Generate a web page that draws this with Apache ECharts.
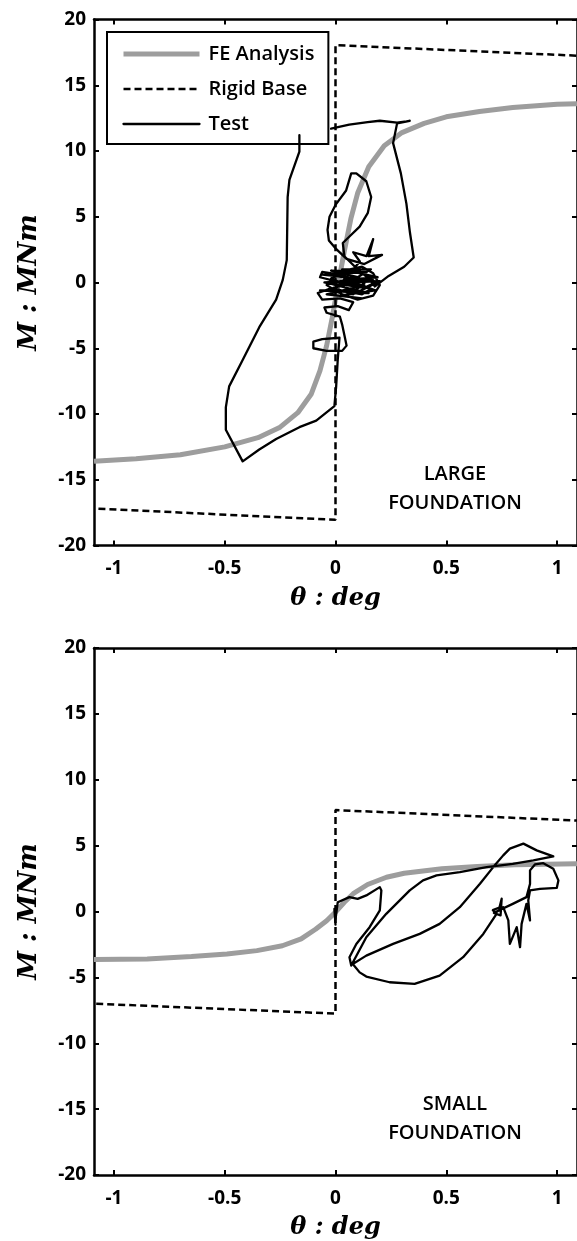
<!DOCTYPE html>
<html>
<head>
<meta charset="utf-8">
<script src="https://cdn.jsdelivr.net/npm/echarts@6/dist/echarts.min.js"></script>
<style>
  html, body { margin: 0; padding: 0; background: #fff; }
  #chart { width: 577px; height: 1241px; }
</style>
</head>
<body>
<div id="chart"></div>
<script>
// Axis ranges and tick labels
const xRange = [-1.09, 1.09];
const yRange = [-20, 20];
const xTicks = [-1, -0.5, 0, 0.5, 1];
const yTicks = [-20, -15, -10, -5, 0, 5, 10, 15, 20];

const seriesNames = ['FE Analysis', 'Rigid Base', 'Test'];
const panelLabels = ['LARGE\nFOUNDATION', 'SMALL\nFOUNDATION'];

// Large foundation: [theta (deg), M (MNm)]
const largeFE = [
  [-1.09, -13.6], [-0.9, -13.4], [-0.7, -13.1], [-0.5, -12.5], [-0.35, -11.8],
  [-0.25, -11.0], [-0.17, -9.9], [-0.11, -8.5], [-0.07, -6.7], [-0.04, -4.8],
  [-0.015, -2.7], [0.01, -0.3], [0.04, 2.4], [0.07, 4.9], [0.1, 6.8],
  [0.15, 8.8], [0.22, 10.4], [0.3, 11.4], [0.4, 12.1], [0.5, 12.6],
  [0.65, 13.0], [0.8, 13.3], [1.0, 13.55], [1.09, 13.6]
];
const largeRigid = [[-1.07, -17.2], [0, -18.05], [0, 18.05], [1.09, 17.25]];
const largeTest = [
  [-0.163, 11.2], [-0.163, 9.95], [-0.208, 7.8], [-0.216, 6.5], [-0.22, 1.7],
  [-0.238, 0.2], [-0.268, -1.3], [-0.344, -3.4], [-0.419, -5.9], [-0.48, -7.9],
  [-0.495, -9.5], [-0.495, -11.2], [-0.419, -13.6], [-0.344, -12.7], [-0.268, -11.9],
  [-0.163, -11.0], [-0.087, -10.5], [-0.005, -9.4], [0.003, -7.9], [0.01, -5.9],
  [0.018, -4.2], [-0.06, -4.3], [-0.1, -4.5], [-0.1, -5.0], [-0.04, -5.2],
  [0.03, -5.2], [0.05, -4.8], [0.04, -4.0], [0.03, -3.2], [0.02, -2.6],
  [-0.04, -2.3], [-0.05, -1.9], [0.01, -1.8], [0.06, -2.1], [0.08, -1.5],
  [0.02, -1.2], [-0.06, -1.3], [-0.08, -0.8], [-0.03, -0.5], [0.05, -0.7],
  [0.12, -0.9], [0.16, -0.5], [0.1, -0.1], [0.0, 0.1], [-0.07, 0.4],
  [-0.06, 0.8], [0.02, 0.6], [0.1, 0.9], [0.15, 0.5], [0.18, 0.0],
  [0.13, -0.4], [0.05, -0.2], [-0.02, 0.3], [0.04, 0.9], [0.12, 1.2],
  [0.17, 0.7], [0.2, -0.2], [0.17, -1.0], [0.1, -1.3], [0.03, -0.9],
  [-0.04, -0.2], [0.0, 0.5], [0.07, 0.3], [0.14, 0.1], [0.09, -0.6],
  [-0.07, -0.6], [0.15, -0.8], [-0.05, 0.0], [0.16, 0.2], [-0.06, 0.6],
  [0.14, 0.8], [-0.02, 0.9], [0.1, 0.4], [-0.03, -0.1], [0.13, -0.2],
  [-0.04, -0.9], [0.12, -1.2], [0.02, -1.0], [0.18, -0.6], [0.05, 0.2],
  [0.19, 0.4], [0.03, 1.0], [0.16, 1.0], [0.06, 0.0], [0.2, 0.1],
  [0.08, -0.9], [-0.01, -0.4], [0.11, 0.1], [0.0, 0.7], [0.09, 1.1],
  [0.02, -0.1], [0.06, 0.6], [0.11, 1.6], [0.08, 2.3], [0.14, 2.0],
  [0.17, 3.3], [0.15, 2.0], [0.21, 2.1], [0.13, 1.4], [0.05, 1.8],
  [0.0, 2.6], [-0.03, 3.2], [-0.036, 4.0], [-0.027, 5.0], [0.0, 5.9],
  [0.048, 7.0], [0.071, 8.3], [0.094, 8.3], [0.139, 7.7], [0.161, 6.5],
  [0.146, 5.3], [0.109, 4.25], [0.063, 3.5], [0.033, 3.0], [0.04, 2.0],
  [0.1, 1.0], [0.15, 0.3], [0.178, -0.3], [0.24, 0.5], [0.31, 1.2],
  [0.353, 1.9], [0.336, 3.8], [0.32, 6.0], [0.295, 8.3], [0.26, 10.6],
  [0.278, 12.1], [0.335, 12.3], [0.32, 12.25], [0.278, 12.15], [0.2, 12.3],
  [0.145, 12.2], [0.062, 12.0], [-0.02, 11.7]
];

// Small foundation: [theta (deg), M (MNm)]
const smallFE = [
  [-1.09, -3.65], [-0.85, -3.6], [-0.65, -3.42], [-0.49, -3.22], [-0.355, -2.97],
  [-0.24, -2.6], [-0.155, -2.08], [-0.09, -1.35], [-0.04, -0.7], [0.0, -0.05],
  [0.04, 0.7], [0.08, 1.35], [0.145, 2.05], [0.23, 2.6], [0.31, 2.9],
  [0.48, 3.24], [0.64, 3.42], [0.81, 3.55], [1.09, 3.62]
];
const smallRigid = [[-1.08, -7.0], [0, -7.75], [0, 7.7], [1.09, 6.9]];
const smallTest = [
  [0.0, -1.0], [-0.005, 0.2], [0.0, -0.6], [0.01, 0.7], [0.063, 1.09],
  [0.1, 0.96], [0.139, 1.22], [0.2, 1.85], [0.207, 1.6], [0.2, 0.08],
  [0.154, -1.19], [0.094, -2.46], [0.063, -3.47], [0.071, -4.1], [0.139, -1.95],
  [0.229, -0.18], [0.335, 1.6], [0.395, 2.36], [0.456, 2.74], [0.561, 2.99],
  [0.682, 3.37], [0.8, 3.62], [0.893, 3.88], [0.983, 4.18], [0.908, 4.64],
  [0.848, 5.15], [0.787, 4.77], [0.757, 4.26], [0.712, 3.37], [0.652, 2.1],
  [0.561, 0.33], [0.47, -0.94], [0.38, -1.7], [0.26, -2.46], [0.139, -3.35],
  [0.078, -3.98], [0.109, -4.62], [0.139, -4.94], [0.244, -5.37], [0.357, -5.5],
  [0.47, -4.87], [0.576, -3.47], [0.667, -1.7], [0.727, -0.18], [0.71, 0.1],
  [0.74, 0.3], [0.75, 0.97], [0.745, -0.3], [0.715, -0.1], [0.8, 0.58],
  [0.862, 1.09], [0.878, 2.1], [0.878, 3.12], [0.9, 3.57], [0.938, 3.67],
  [0.983, 3.25], [1.006, 2.36], [0.999, 1.8], [0.923, 1.72], [0.878, 1.6],
  [0.87, 0.84], [0.878, -0.68], [0.862, 0.58], [0.84, -0.94], [0.833, -2.71],
  [0.818, -1.19], [0.787, -2.46], [0.78, -0.68], [0.757, 0.33], [0.73, 0.0]
];

const fontSans = '"Open Sans", "Noto Sans", sans-serif';
const fontMath = '"DejaVu Serif", "Liberation Serif", serif';
const AXIS_W = 2.5;

const styles = {
  fe: { color: '#9d9d9d', width: 5 },
  rigid: { color: '#000', width: 2.5, type: [7, 4] },
  test: { color: '#000', width: 2.3 }
};

// Two stacked panels with boxed axes
const grids = [
  { left: 94, top: 19.5, width: 483, height: 526 },
  { left: 94, top: 648, width: 483, height: 527 }
];

function xAxes(g) {
  const common = {
    type: 'value', gridIndex: g, min: xRange[0], max: xRange[1],
    splitLine: { show: false },
    axisLine: { onZero: false, lineStyle: { color: '#000', width: AXIS_W } }
  };
  return [
    Object.assign({}, common, {
      position: 'bottom',
      axisTick: { inside: true, length: 5, customValues: xTicks, lineStyle: { color: '#000', width: 2 } },
      axisLabel: { customValues: xTicks, margin: 14, color: '#000', fontFamily: fontSans, fontSize: 19, fontWeight: 'bold' },
      name: 'θ : deg', nameLocation: 'middle', nameGap: 41,
      nameTextStyle: { fontFamily: fontMath, fontStyle: 'italic', fontWeight: 'bold', fontSize: 24, color: '#000' }
    }),
    Object.assign({}, common, {
      position: 'top',
      axisTick: { inside: true, length: 5, customValues: xTicks, lineStyle: { color: '#000', width: 2 } },
      axisLabel: { show: false }
    })
  ];
}

function yAxes(g) {
  const common = {
    type: 'value', gridIndex: g, min: yRange[0], max: yRange[1], interval: 5,
    splitLine: { show: false },
    axisLine: { onZero: false, lineStyle: { color: '#000', width: AXIS_W } },
    axisTick: { inside: true, length: 5, lineStyle: { color: '#000', width: 2 } }
  };
  return [
    Object.assign({}, common, {
      position: 'left',
      axisLabel: { margin: 8, color: '#000', fontFamily: fontSans, fontSize: 19, fontWeight: 'bold' },
      name: 'M : MNm', nameLocation: 'middle', nameGap: 52,
      nameTextStyle: { fontFamily: fontMath, fontStyle: 'italic', fontWeight: 'bold', fontSize: 26, color: '#000' }
    }),
    Object.assign({}, common, {
      position: 'right',
      axisLabel: { show: false }
    })
  ];
}

function panelSeries(g, fe, rigid, test) {
  const base = {
    type: 'line', xAxisIndex: g * 2, yAxisIndex: g * 2,
    symbol: 'none', showSymbol: false, smooth: false, animation: false, silent: true
  };
  return [
    Object.assign({}, base, { name: seriesNames[0], data: fe, z: 2, lineStyle: styles.fe }),
    Object.assign({}, base, { name: seriesNames[1], data: rigid, z: 3, lineStyle: styles.rigid }),
    Object.assign({}, base, {
      name: seriesNames[2], data: test, z: 4,
      lineStyle: Object.assign({ join: 'round', cap: 'round' }, styles.test)
    })
  ];
}

const chart = echarts.init(document.getElementById('chart'), null, { renderer: 'canvas' });

chart.setOption({
  backgroundColor: '#fff',
  animation: false,
  grid: grids,
  xAxis: xAxes(0).concat(xAxes(1)),
  yAxis: yAxes(0).concat(yAxes(1)),
  legend: {
    data: [
      { name: seriesNames[0], lineStyle: styles.fe },
      { name: seriesNames[1], lineStyle: styles.rigid },
      { name: seriesNames[2], lineStyle: styles.test }
    ],
    orient: 'vertical',
    left: 107, top: 32,
    padding: [12, 14, 10, 14],
    itemWidth: 76, itemHeight: 20, itemGap: 15,
    itemStyle: { opacity: 0 },
    backgroundColor: '#fff',
    borderColor: '#000', borderWidth: 2, borderRadius: 0,
    selectedMode: false,
    textStyle: { color: '#000', fontFamily: fontSans, fontSize: 20, fontWeight: 600, padding: [0, 0, 0, 4] }
  },
  graphic: [
    {
      type: 'text', x: 455, y: 489, z: 10,
      style: {
        text: panelLabels[0], fill: '#000', font: '600 20px ' + fontSans,
        align: 'center', verticalAlign: 'middle', lineHeight: 29
      }
    },
    {
      type: 'text', x: 455, y: 1119, z: 10,
      style: {
        text: panelLabels[1], fill: '#000', font: '600 20px ' + fontSans,
        align: 'center', verticalAlign: 'middle', lineHeight: 29
      }
    }
  ],
  series: panelSeries(0, largeFE, largeRigid, largeTest)
    .concat(panelSeries(1, smallFE, smallRigid, smallTest))
});
</script>
</body>
</html>
